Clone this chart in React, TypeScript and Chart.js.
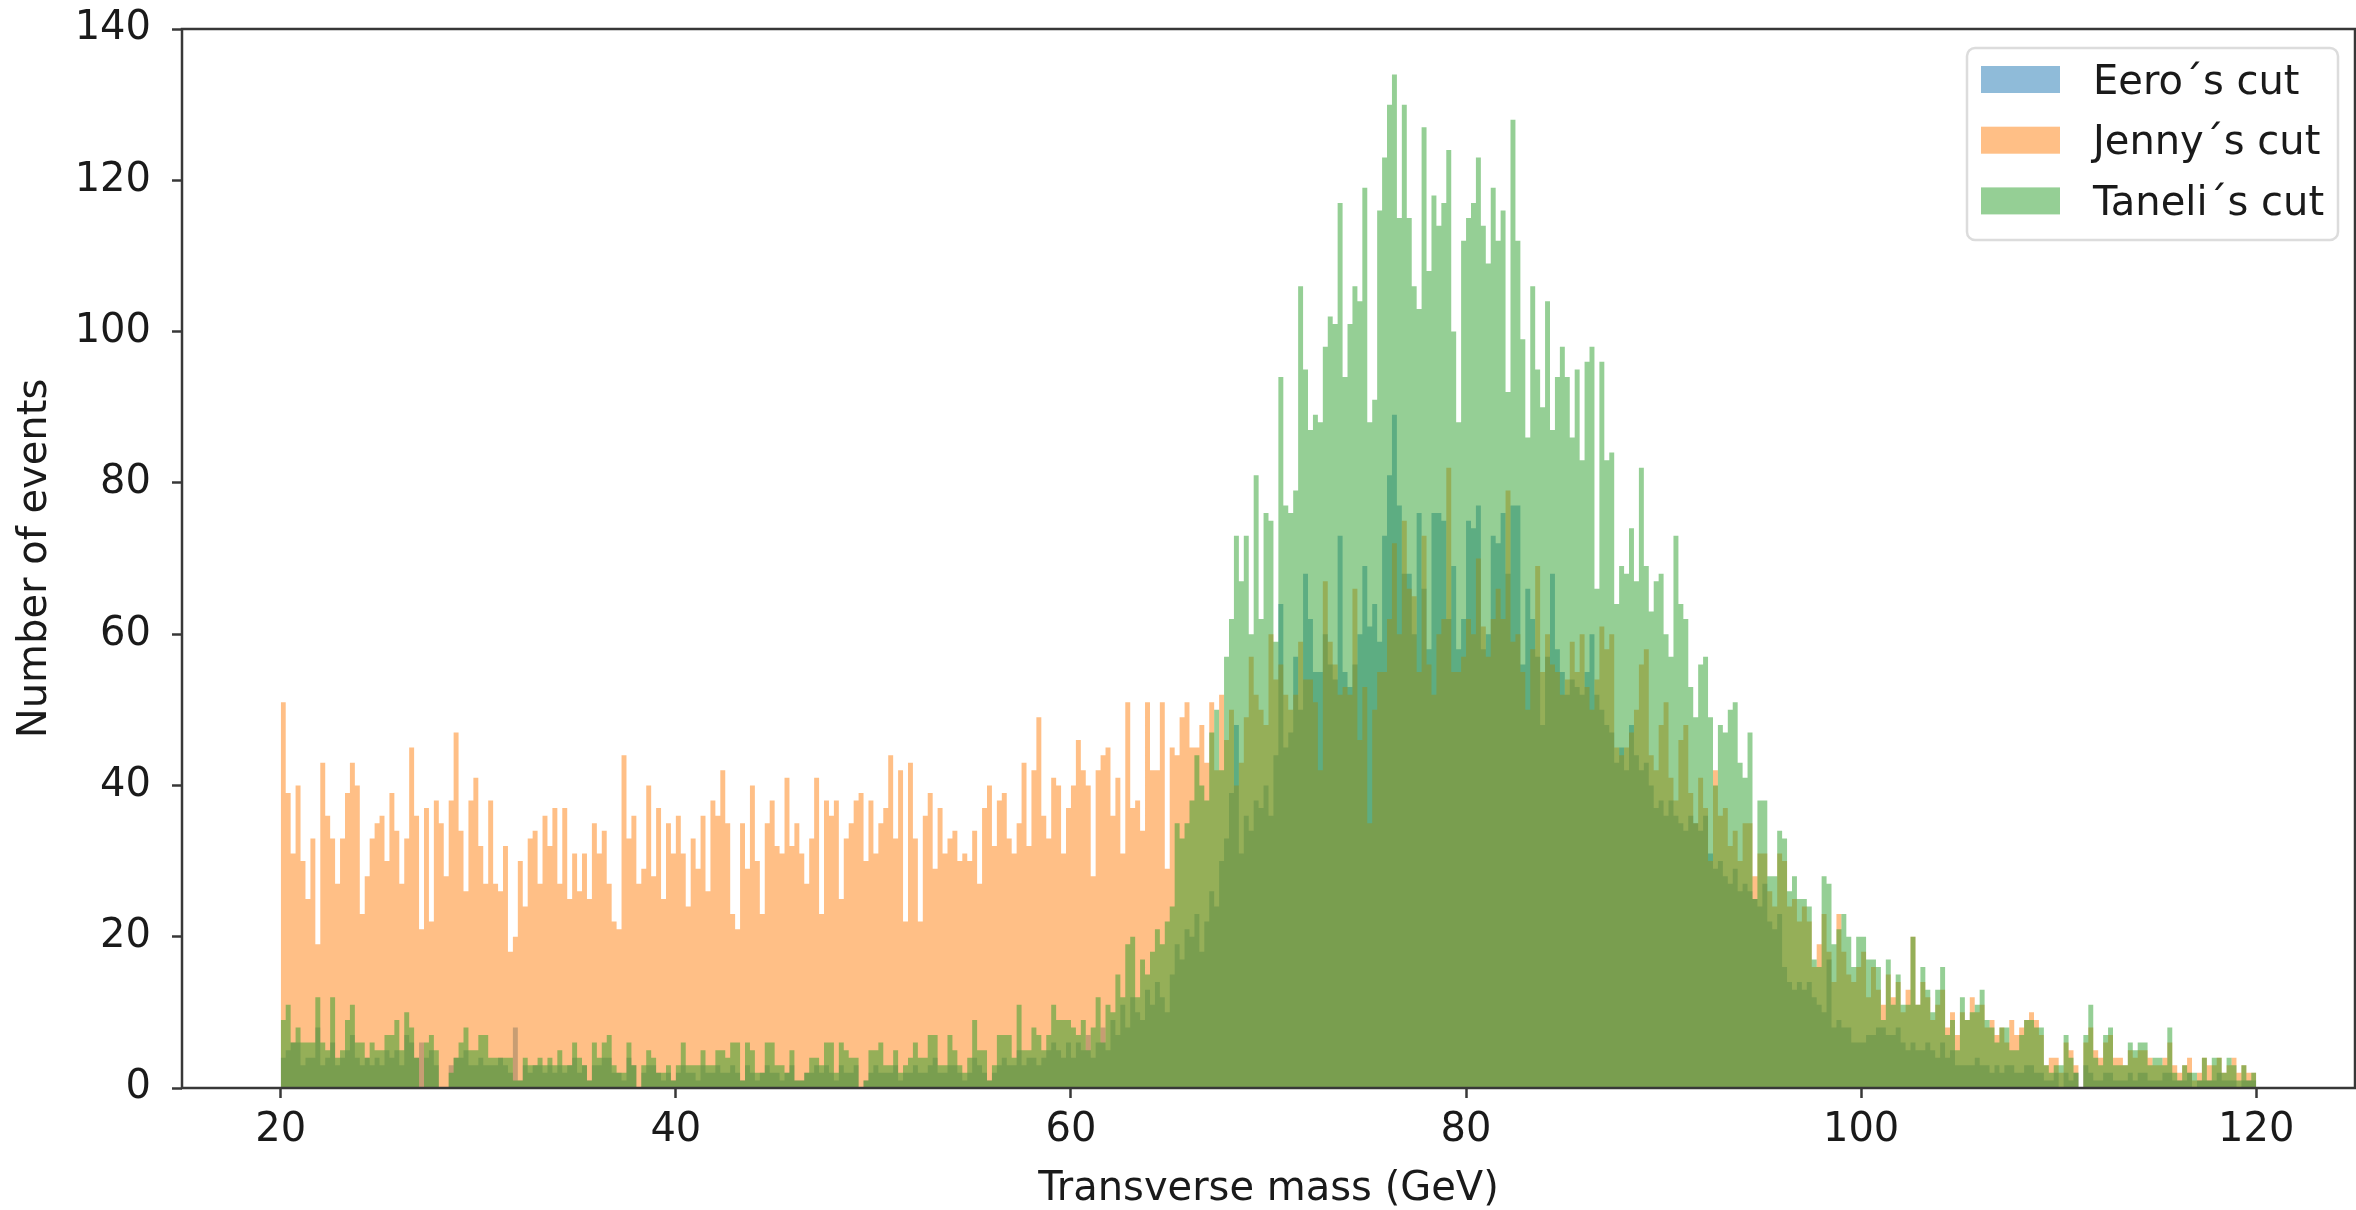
import React, { useEffect, useRef } from 'react';
import { Chart, registerables } from 'chart.js';

Chart.register(...registerables);

// ---- data (histogram bin counts, bins of width 0.25 starting at 20) ----
const BIN_START = 20;
const BIN_WIDTH = 0.25;
const X_TICKS = [20, 40, 60, 80, 100, 120];
const Y_TICKS = [0, 20, 40, 60, 80, 100, 120, 140];
const SERIES_LABELS = ['Eero´s cut', 'Jenny´s cut', 'Taneli´s cut'];
const X_TITLE = 'Transverse mass (GeV)';
const Y_TITLE = 'Number of events';

const eeroCounts = [
  4,5,6,6,3,4,4,8,3,4,
  6,3,4,5,7,4,3,4,3,4,
  3,5,4,5,3,7,6,4,6,4,
  5,3,0,0,3,4,4,5,3,3,
  4,3,3,3,4,3,2,8,1,3,
  2,3,3,2,3,2,3,2,3,4,
  2,3,1,3,3,4,4,2,2,1,
  4,3,0,2,3,3,2,1,2,1,
  2,3,2,2,1,3,2,2,3,2,
  2,3,2,1,3,2,1,2,3,2,
  2,1,2,3,1,1,2,2,3,2,
  3,2,1,3,2,2,3,0,1,2,
  3,2,2,2,3,1,2,2,3,2,
  2,3,4,2,2,3,3,2,1,2,
  4,3,2,1,2,3,4,3,3,5,
  3,4,4,3,4,5,6,5,4,6,
  4,6,5,7,4,6,8,5,9,7,
  11,8,12,10,9,13,11,14,12,10,
  15,19,17,21,20,23,18,22,26,24,
  30,33,39,48,31,36,34,38,37,40,
  36,44,64,45,47,57,50,68,
  62,55,55,60,56,54,73,55,53,56,
  60,69,61,64,59,73,81,89,77,68,
  68,60,76,66,58,76,76,75,62,69,
  58,62,75,74,77,58,60,73,72,76,
  68,77,77,56,66,62,57,48,
  57,68,58,55,52,54,53,52,55,60,
  52,50,48,47,43,45,42,48,44,42,
  43,40,37,38,36,38,36,35,34,36,
  35,34,36,31,29,30,28,27,29,26,
  27,26,25,24,27,22,21,23,
  16,14,13,14,13,14,12,11,10,17,
  8,9,8,8,6,6,6,7,7,8,
  8,7,7,8,6,5,6,5,5,6,
  5,4,6,4,5,3,3,3,3,4,
  3,3,2,3,2,3,3,2,2,3,
  3,2,2,1,1,2,0,2,1,2,
  0,3,2,1,1,2,2,1,1,1,
  2,1,2,2,1,1,1,2,2,1,
  1,1,2,0,1,1,1,1,2,1,
  1,1,0,1,1,1,
];

const jennyCounts = [
  51,39,31,40,30,25,33,19,43,36,
  33,27,33,39,43,40,23,28,33,35,
  36,30,39,34,27,33,45,36,21,37,
  22,38,35,28,38,47,34,26,38,41,
  32,27,38,27,26,32,18,20,30,24,
  33,34,27,36,32,37,27,37,25,31,
  26,31,25,35,31,34,27,22,21,44,
  33,36,27,29,40,28,37,25,35,31,
  36,31,24,33,29,36,26,38,36,42,
  35,23,21,35,29,40,30,23,35,38,
  32,31,41,32,35,31,27,33,41,23,
  38,36,38,25,33,35,38,39,30,38,
  31,35,37,44,33,42,22,43,33,22,
  36,39,29,37,31,33,34,30,31,30,
  34,27,37,40,32,38,39,33,31,35,
  43,32,42,49,36,33,41,40,31,37,
  40,46,42,40,28,42,44,45,36,41,
  31,51,37,38,34,51,42,42,51,29,
  45,44,49,51,45,45,48,43,51,42,
  52,46,50,40,43,49,57,52,50,48,
  60,54,56,52,50,52,59,54,
  54,51,42,67,59,56,52,53,52,66,
  46,53,35,50,55,55,62,72,60,75,
  66,65,55,73,56,52,60,62,82,55,
  55,57,62,60,70,61,57,62,66,62,
  79,59,60,55,50,58,69,55,
  60,56,55,52,54,59,55,60,53,50,
  54,61,58,60,45,44,45,47,50,56,
  58,44,42,48,51,41,38,46,48,39,
  35,41,37,30,42,36,37,32,34,30,
  35,35,28,31,31,26,24,31,
  30,24,25,22,24,22,16,19,23,18,
  14,23,18,15,14,16,18,12,16,13,
  11,15,12,14,10,13,20,11,14,12,
  9,11,13,8,10,7,10,9,12,10,
  11,8,9,7,8,6,9,7,8,9,
  10,9,7,3,4,4,2,6,5,3,
  0,6,8,5,4,6,7,4,4,3,
  5,4,5,5,4,3,3,4,6,3,
  2,3,4,1,2,4,3,3,4,2,
  3,4,2,3,2,2,
];

const taneliCounts = [
  9,11,6,8,6,6,6,12,6,5,
  12,4,5,9,11,6,6,4,6,5,
  5,7,7,9,5,10,8,4,0,6,
  7,5,0,0,2,4,6,8,5,5,
  7,7,4,4,4,4,4,1,1,4,
  3,3,4,3,4,3,5,3,3,6,
  4,3,1,6,4,6,7,3,2,2,
  6,3,0,3,5,4,2,2,3,1,
  3,6,3,3,3,5,3,3,5,5,
  4,6,6,1,6,5,2,2,6,6,
  3,3,2,5,1,1,2,4,4,3,
  6,6,2,6,5,4,4,0,1,5,
  5,6,3,3,5,2,3,4,6,4,
  4,7,7,3,3,7,5,3,2,4,
  9,5,5,1,3,7,7,7,4,11,
  5,5,8,7,5,7,11,9,9,9,
  8,7,9,5,8,12,6,11,10,15,
  12,19,20,12,17,15,18,21,19,22,
  24,35,33,35,38,44,40,38,47,50,
  42,57,62,73,67,73,60,81,62,76,
  75,59,94,77,76,79,106,95,
  87,89,88,98,102,101,117,94,101,106,
  104,119,88,91,116,123,130,134,115,130,
  115,106,103,127,108,118,114,117,124,100,
  88,112,115,117,123,114,109,119,112,116,
  92,128,112,99,86,106,95,90,
  104,87,94,98,94,86,95,83,96,98,
  66,96,83,84,64,69,68,74,67,82,
  69,63,67,68,60,57,73,64,62,53,
  49,56,57,49,40,48,47,50,51,43,
  41,47,25,38,38,28,28,34,
  33,26,28,25,25,24,17,16,28,27,
  19,21,23,20,16,20,20,17,17,16,
  9,17,11,15,11,11,20,11,16,13,
  10,13,16,7,9,5,12,9,10,11,
  13,9,8,6,8,8,5,5,7,9,
  9,8,8,3,2,3,3,7,4,2,
  0,7,11,4,3,7,8,3,3,3,
  6,5,6,6,3,4,4,3,8,2,
  1,3,2,2,1,4,1,4,4,2,
  4,3,1,3,1,2,
];

const SERIES_COLORS = ['rgba(31,119,180,0.5)', 'rgba(255,127,14,0.5)', 'rgba(44,160,44,0.5)'];
const TEXT_COLOR = '#1a1a1a';
const SPINE_COLOR = '#383838';
const FONT_FAMILY = "'DejaVu Sans', 'Liberation Sans', sans-serif";

// step outline points: each bin value holds from its left edge to the next edge
function toSteps(counts: number[]) {
  const pts = counts.map((v, i) => ({ x: BIN_START + i * BIN_WIDTH, y: v }));
  pts.push({ x: BIN_START + counts.length * BIN_WIDTH, y: counts[counts.length - 1] });
  return pts;
}

const framePlugin = {
  id: 'mplFrame',
  afterDatasetsDraw(chart: any) {
    const { ctx, chartArea } = chart;
    ctx.save();
    ctx.strokeStyle = SPINE_COLOR;
    ctx.lineWidth = 2.5;
    ctx.strokeRect(chartArea.left, chartArea.top, chartArea.right - chartArea.left, chartArea.bottom - chartArea.top);
    ctx.restore();
  },
};

const legendPlugin = {
  id: 'mplLegend',
  afterDraw(chart: any) {
    const { ctx, chartArea } = chart;
    ctx.save();
    const bw = 371, bh = 192;
    const bx = chartArea.right - 17 - bw;
    const by = chartArea.top + 19;
    ctx.beginPath();
    ctx.roundRect(bx, by, bw, bh, 8);
    ctx.fillStyle = 'rgba(255,255,255,0.85)';
    ctx.fill();
    ctx.lineWidth = 2.5;
    ctx.strokeStyle = '#dcdcdc';
    ctx.stroke();
    ctx.font = `40px ${FONT_FAMILY}`;
    ctx.textBaseline = 'alphabetic';
    ctx.textAlign = 'left';
    SERIES_LABELS.forEach((label, i) => {
      const cy = by + 31.5 + i * 60.7;
      ctx.fillStyle = SERIES_COLORS[i];
      ctx.fillRect(bx + 14, cy - 13.5, 79, 27);
      ctx.fillStyle = TEXT_COLOR;
      ctx.fillText(label, bx + 126, cy + 14);
    });
    ctx.restore();
  },
};

export default function App() {
  const ref = useRef<HTMLCanvasElement>(null);
  useEffect(() => {
    document.body.style.margin = '0';
    Chart.defaults.font.family = FONT_FAMILY;
    const series = [
      { label: SERIES_LABELS[2], counts: taneliCounts, color: SERIES_COLORS[2] },
      { label: SERIES_LABELS[1], counts: jennyCounts, color: SERIES_COLORS[1] },
      { label: SERIES_LABELS[0], counts: eeroCounts, color: SERIES_COLORS[0] },
    ];
    const chart = new Chart(ref.current as HTMLCanvasElement, {
      type: 'line',
      data: {
        datasets: series.map((s) => ({
          label: s.label,
          data: toSteps(s.counts),
          stepped: true,
          fill: 'origin',
          backgroundColor: s.color,
          borderColor: 'rgba(0,0,0,0)',
          borderWidth: 0,
          pointRadius: 0,
          pointHoverRadius: 0,
          tension: 0,
        })),
      },
      options: {
        animation: false,
        responsive: false,
        devicePixelRatio: 1,
        events: [],
        layout: { padding: { top: 29, right: 1, left: 0, bottom: 0 } },
        plugins: {
          legend: { display: false },
          tooltip: { enabled: false },
        },
        scales: {
          x: {
            type: 'linear',
            min: 15,
            max: 125,
            afterBuildTicks: (s: any) => {
              s.ticks = X_TICKS.map((v) => ({ value: v }));
            },
            afterFit: (s: any) => {
              s.height = 122;
              s.paddingLeft = 0;
              s.paddingRight = 0;
            },
            ticks: {
              color: TEXT_COLOR,
              font: { size: 40 },
              padding: 9,
              maxRotation: 0,
              autoSkip: false,
              callback: (v: any) => String(v),
            },
            grid: { drawOnChartArea: false, tickLength: 10, tickWidth: 2.5, tickColor: SPINE_COLOR },
            border: { display: false },
            title: { display: true, text: X_TITLE, color: TEXT_COLOR, font: { size: 40 }, padding: { top: 0, bottom: -4 } },
          },
          y: {
            type: 'linear',
            min: 0,
            max: 140,
            afterBuildTicks: (s: any) => {
              s.ticks = Y_TICKS.map((v) => ({ value: v }));
            },
            afterFit: (s: any) => {
              s.width = 182;
              s.paddingTop = 0;
              s.paddingBottom = 0;
            },
            ticks: {
              color: TEXT_COLOR,
              font: { size: 40 },
              padding: 21,
              autoSkip: false,
              callback: (v: any) => String(v),
            },
            grid: { drawOnChartArea: false, tickLength: 10, tickWidth: 2.5, tickColor: SPINE_COLOR },
            border: { display: false },
            title: { display: true, text: Y_TITLE, color: TEXT_COLOR, font: { size: 40 }, padding: { top: 12, bottom: 0 } },
          },
        },
      },
      plugins: [framePlugin, legendPlugin],
    } as any);
    return () => chart.destroy();
  }, []);
  return (
    <div style={{ width: 2356, height: 1210, background: '#ffffff' }}>
      <canvas ref={ref} width={2356} height={1210} style={{ display: 'block' }} />
    </div>
  );
}
